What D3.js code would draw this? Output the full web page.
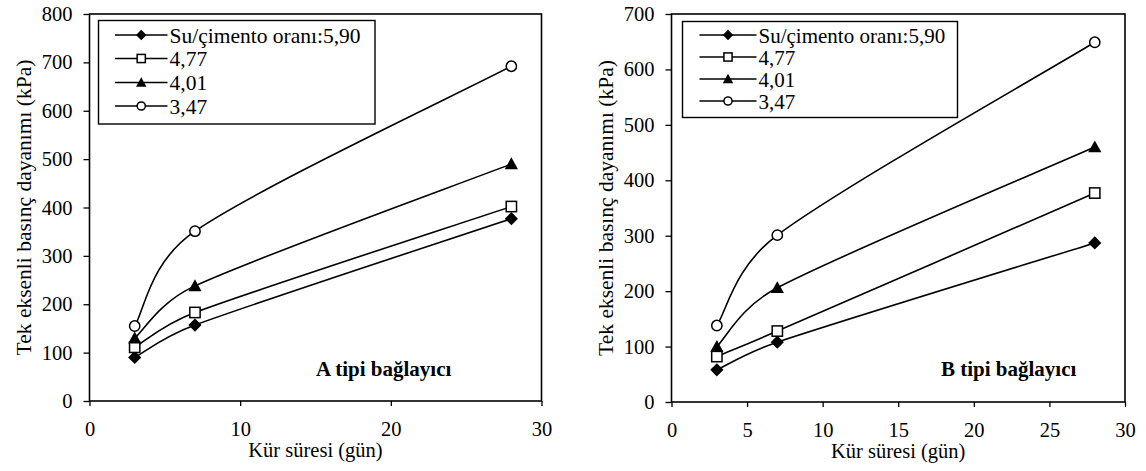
<!DOCTYPE html>
<html>
<head>
<meta charset="utf-8">
<script src="https://cdn.jsdelivr.net/npm/d3@7"></script>
<style>
  html, body { margin: 0; padding: 0; background: #fff; }
  svg { display: block; }
</style>
</head>
<body>
<svg id="chart" width="1146" height="471"></svg>
<script>
// Curing time (days)
const days = [3, 7, 28];
// Water/cement ratio series
const seriesLabels = ["Su/çimento oranı:5,90", "4,77", "4,01", "3,47"];
const markerTypes = ["diamond", "square", "triangle", "circle"];

// Unconfined compressive strength (kPa), binder type A
const strengthA_590 = [90, 157, 377];
const strengthA_477 = [111, 183, 402];
const strengthA_401 = [130, 238, 490];
const strengthA_347 = [155, 351, 692];

// Unconfined compressive strength (kPa), binder type B
const strengthB_590 = [58, 108, 287];
const strengthB_477 = [82, 128, 377];
const strengthB_401 = [100, 206, 460];
const strengthB_347 = [138, 301, 649];

// Axis ticks
const xTicksA = [0, 10, 20, 30];
const xTicksB = [0, 5, 10, 15, 20, 25, 30];
const yTicksA = [0, 100, 200, 300, 400, 500, 600, 700, 800];
const yTicksB = [0, 100, 200, 300, 400, 500, 600, 700];

const xTitle = "Kür süresi (gün)";
const yTitle = "Tek eksenli basınç dayanımı (kPa)";

const FONT = "'Liberation Serif', 'Times New Roman', serif";

const svg = d3.select("#chart").attr("font-family", FONT);
svg.append("rect").attr("width", 1146).attr("height", 471).attr("fill", "#fff");

// Smoothed line in the spreadsheet style: cubic Bezier segments whose control
// arms follow the neighbouring points (1/6 factor), clamped to half the segment.
function smoothPath(pts) {
  const p = d3.path();
  const dist = (a, b) => Math.hypot(b[0] - a[0], b[1] - a[1]);
  p.moveTo(pts[0][0], pts[0][1]);
  for (let i = 0; i < pts.length - 1; i++) {
    const p0 = pts[Math.max(0, i - 1)];
    const p1 = pts[i];
    const p2 = pts[i + 1];
    const p3 = pts[Math.min(pts.length - 1, i + 2)];
    const d12 = dist(p1, p2), d02 = dist(p0, p2), d13 = dist(p1, p3);
    let f0 = 1 / 6, f1 = 1 / 6;
    if (d02 / 6 >= d12 / 2) f0 = d12 / d02 / 2;
    if (d13 / 6 >= d12 / 2) f1 = d12 / d13 / 2;
    const c1 = [p1[0] + f0 * (p2[0] - p0[0]), p1[1] + f0 * (p2[1] - p0[1])];
    const c2 = [p2[0] - f1 * (p3[0] - p1[0]), p2[1] - f1 * (p3[1] - p1[1])];
    p.bezierCurveTo(c1[0], c1[1], c2[0], c2[1], p2[0], p2[1]);
  }
  return p.toString();
}

function drawMarker(g, type, x, y, size) {
  if (type === "diamond") {
    const r = size * 0.55;
    g.append("path")
      .attr("d", `M${x},${y - r}L${x + r},${y}L${x},${y + r}L${x - r},${y}Z`)
      .attr("fill", "#000");
  } else if (type === "square") {
    const h = size * 0.43;
    g.append("rect")
      .attr("x", x - h).attr("y", y - h)
      .attr("width", 2 * h).attr("height", 2 * h)
      .attr("fill", "#fff").attr("stroke", "#000").attr("stroke-width", 1.5);
  } else if (type === "triangle") {
    const h = size * 0.55;
    g.append("path")
      .attr("d", `M${x},${y - h}L${x + h},${y + h * 0.8}L${x - h},${y + h * 0.8}Z`)
      .attr("fill", "#000");
  } else {
    g.append("circle")
      .attr("cx", x).attr("cy", y).attr("r", size * 0.43)
      .attr("fill", "#fff").attr("stroke", "#000").attr("stroke-width", 1.5);
  }
}

function drawPanel(cfg) {
  const g = svg.append("g");
  const x = d3.scaleLinear().domain([0, 30]).range([cfg.left, cfg.right]);
  const y = d3.scaleLinear().domain([0, cfg.yMax]).range([cfg.bottom, cfg.top]);

  // axes
  const xAxis = g.append("g")
    .attr("transform", `translate(0,${cfg.bottom})`)
    .call(d3.axisBottom(x).tickValues(cfg.xTicks).tickSize(5).tickPadding(15).tickFormat(d3.format("d")));
  const yAxis = g.append("g")
    .attr("transform", `translate(${cfg.left},0)`)
    .call(d3.axisLeft(y).tickValues(cfg.yTicks).tickSize(6).tickPadding(11).tickFormat(d3.format("d")));
  [xAxis, yAxis].forEach(a => {
    a.attr("font-family", FONT).attr("font-size", 20.5);
    a.select(".domain").remove();
    a.selectAll(".tick line").attr("stroke", "#000").attr("stroke-width", 1.3);
    a.selectAll(".tick text").attr("fill", "#000");
  });

  // plot frame
  g.append("rect")
    .attr("x", cfg.left).attr("y", cfg.top)
    .attr("width", cfg.right - cfg.left).attr("height", cfg.bottom - cfg.top)
    .attr("fill", "none").attr("stroke", "#000").attr("stroke-width", 1.6);

  // axis titles
  g.append("text")
    .attr("x", (cfg.left + cfg.right) / 2).attr("y", cfg.bottom + 56)
    .attr("text-anchor", "middle")
    .attr("font-size", 20.5)
    .text(xTitle);
  g.append("text")
    .attr("transform", `translate(${cfg.left - 59},${(cfg.top + cfg.bottom) / 2}) rotate(-90)`)
    .attr("text-anchor", "middle")
    .attr("font-size", 21.5)
    .text(yTitle);

  // series lines, then markers on top
  cfg.series.forEach(vals => {
    const pts = vals.map((v, i) => [x(days[i]), y(v)]);
    g.append("path")
      .attr("d", smoothPath(pts))
      .attr("fill", "none").attr("stroke", "#000").attr("stroke-width", 1.6);
  });
  cfg.series.forEach((vals, si) => {
    vals.forEach((v, i) => drawMarker(g, markerTypes[si], x(days[i]), y(v), 12));
  });

  // legend
  const L = cfg.legend;
  g.append("rect")
    .attr("x", L.x0).attr("y", L.y0)
    .attr("width", L.x1 - L.x0).attr("height", L.y1 - L.y0)
    .attr("fill", "#fff").attr("stroke", "#000").attr("stroke-width", 1.4);
  seriesLabels.forEach((lab, i) => {
    const ry = L.rows[i];
    g.append("line")
      .attr("x1", L.lineX0).attr("x2", L.lineX1)
      .attr("y1", ry).attr("y2", ry)
      .attr("stroke", "#000").attr("stroke-width", 1.6);
    drawMarker(g, markerTypes[i], (L.lineX0 + L.lineX1) / 2, ry, 9.5);
    g.append("text")
      .attr("x", L.lineX1 + 2).attr("y", ry + 7.5)
      .attr("font-size", L.fontSize)
      .text(lab);
  });

  // binder label
  g.append("text")
    .attr("x", cfg.note.x).attr("y", cfg.note.y)
    .attr("font-size", 21)
    .attr("font-weight", "bold")
    .text(cfg.note.text);
}

drawPanel({
  left: 89.5, right: 541.5, top: 14, bottom: 401,
  yMax: 800, xTicks: xTicksA, yTicks: yTicksA,
  series: [strengthA_590, strengthA_477, strengthA_401, strengthA_347],
  legend: { x0: 98.5, y0: 20.5, x1: 375, y1: 124, lineX0: 115, lineX1: 167.5, rows: [35, 58.5, 82.5, 106], fontSize: 21.5 },
  note: { x: 316, y: 376, text: "A tipi bağlayıcı" }
});

drawPanel({
  left: 671.5, right: 1125, top: 14, bottom: 402,
  yMax: 700, xTicks: xTicksB, yTicks: yTicksB,
  series: [strengthB_590, strengthB_477, strengthB_401, strengthB_347],
  legend: { x0: 682.5, y0: 21.5, x1: 957.5, y1: 117.5, lineX0: 699.5, lineX1: 756.5, rows: [35, 57, 79, 101], fontSize: 21 },
  note: { x: 941, y: 376, text: "B tipi bağlayıcı" }
});
</script>
</body>
</html>
